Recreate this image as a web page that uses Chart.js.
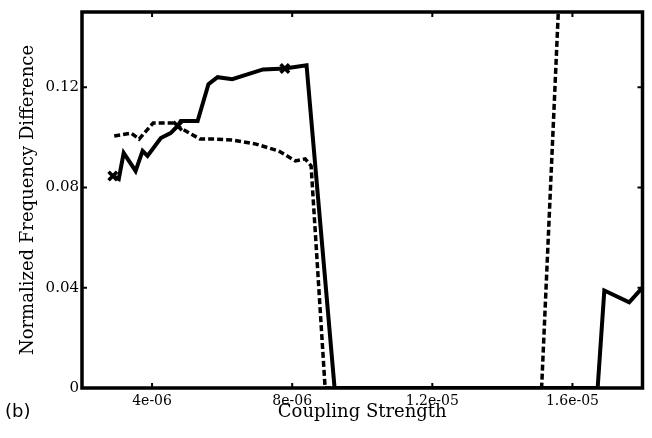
<!DOCTYPE html>
<html>
<head>
<meta charset="utf-8">
<script src="https://cdn.jsdelivr.net/npm/chart.js@4/dist/chart.umd.min.js"></script>
<style>
  body { margin: 0; background: #fff; }
  #wrap { width: 652px; height: 438px; }
</style>
</head>
<body>
<div id="wrap"><canvas id="freqChart" width="652" height="438"></canvas></div>
<script>
  // values
  const solidX = [2.88e-6, 3.05e-6, 3.19e-6, 3.53e-6, 3.73e-6, 3.87e-6, 4.25e-6, 4.53e-6, 4.73e-6, 4.82e-6,
                  5.30e-6, 5.61e-6, 5.87e-6, 6.29e-6, 6.72e-6, 7.17e-6, 7.79e-6, 8.41e-6, 9.21e-6,
                  1.672e-5, 1.691e-5, 1.762e-5, 1.80e-5];
  const solidY = [0.0846, 0.0834, 0.0938, 0.0866, 0.0946, 0.0926, 0.0997, 0.1017, 0.1045, 0.1065,
                  0.1065, 0.1212, 0.1240, 0.1232, 0.1251, 0.1271, 0.1275, 0.1287, 0,
                  0, 0.0389, 0.0342, 0.0401];
  const solidMarks = [0, 8, 16]; // indices with a cross

  const dashedX = [2.92e-6, 3.40e-6, 3.63e-6, 4.03e-6, 4.62e-6, 4.82e-6, 5.37e-6, 5.75e-6, 6.31e-6, 6.97e-6,
                   7.61e-6, 8.09e-6, 8.37e-6, 8.54e-6, 8.94e-6, 1.512e-5, 1.566e-5];
  const dashedY = [0.1005, 0.1017, 0.0993, 0.1057, 0.1057, 0.1037, 0.0993, 0.0993, 0.0989, 0.0973,
                   0.0946, 0.0906, 0.0914, 0.0886, 0, 0, 0.17];

  const xTicks = [4e-6, 8e-6, 1.2e-5, 1.6e-5];
  const xTickLabels = ['4e-06', '8e-06', '1.2e-05', '1.6e-05'];
  const yTicks = [0, 0.04, 0.08, 0.12];
  const yTickLabels = ['0', '0.04', '0.08', '0.12'];

  const serif = 'DejaVu Serif';

  // frame with inward ticks on all four sides, plus the panel label
  const framePlugin = {
    id: 'frame',
    afterDraw(chart) {
      const { ctx, chartArea: a, scales } = chart;
      ctx.save();
      ctx.strokeStyle = '#000';
      ctx.lineWidth = 2;
      ctx.beginPath();
      xTicks.forEach(v => {
        const px = scales.x.getPixelForValue(v);
        ctx.moveTo(px, a.bottom); ctx.lineTo(px, a.bottom - 5);
        ctx.moveTo(px, a.top); ctx.lineTo(px, a.top + 5);
      });
      yTicks.forEach(v => {
        const py = scales.y.getPixelForValue(v);
        ctx.moveTo(a.left, py); ctx.lineTo(a.left + 5, py);
        ctx.moveTo(a.right, py); ctx.lineTo(a.right - 5, py);
      });
      ctx.stroke();
      ctx.lineWidth = 3.5;
      ctx.strokeRect(a.left, a.top, a.right - a.left, a.bottom - a.top);
      ctx.fillStyle = '#000';
      ctx.font = '18px "DejaVu Sans"';
      ctx.textBaseline = 'alphabetic';
      ctx.fillText('(b)', 5, 417);
      ctx.restore();
    }
  };

  function createFreqChart() {
    const ctx = document.getElementById('freqChart').getContext('2d');

    new Chart(ctx, {
      type: 'line',
      data: {
        datasets: [
          {
            label: 'dashed',
            data: dashedX.map((x, i) => ({ x: x, y: dashedY[i] })),
            borderColor: '#000',
            borderWidth: 3.5,
            borderDash: [6, 3],
            pointRadius: 0,
            tension: 0,
          },
          {
            label: 'solid',
            data: solidX.map((x, i) => ({ x: x, y: solidY[i] })),
            borderColor: '#000',
            borderWidth: 4,
            pointStyle: 'crossRot',
            pointRadius: solidX.map((x, i) => solidMarks.includes(i) ? 6 : 0),
            pointBorderWidth: 3.5,
            pointBorderColor: '#000',
            tension: 0,
          },
        ],
      },
      options: {
        responsive: false,
        animation: false,
        layout: { padding: { left: 0, right: 5, top: 10, bottom: 15 } },
        plugins: {
          legend: { display: false },
          tooltip: { enabled: false },
        },
        scales: {
          x: {
            type: 'linear',
            min: 2e-6,
            max: 1.8e-5,
            grid: { display: false, drawTicks: false },
            border: { display: false },
            afterBuildTicks: s => { s.ticks = xTicks.map(v => ({ value: v })); },
            afterFit: s => { s.height = 35; },
            ticks: {
              color: '#000',
              font: { family: serif, size: 14 },
              padding: 5,
              maxRotation: 0,
              callback: (v, i) => xTickLabels[i],
            },
            title: {
              display: true,
              text: 'Coupling Strength',
              color: '#000',
              font: { family: serif, size: 18 },
              padding: { top: 0, bottom: 0 },
            },
          },
          y: {
            min: 0,
            max: 0.15,
            grid: { display: false, drawTicks: false },
            border: { display: false },
            afterBuildTicks: s => { s.ticks = yTicks.map(v => ({ value: v })); },
            afterFit: s => { s.width = 82; },
            ticks: {
              color: '#000',
              font: { family: serif, size: 15 },
              padding: 3,
              callback: (v, i) => yTickLabels[i],
            },
            title: {
              display: true,
              text: 'Normalized Frequency Difference',
              color: '#000',
              font: { family: serif, size: 18 },
              padding: { top: 18, bottom: 0 },
            },
          },
        },
      },
      plugins: [framePlugin],
    });
  }

  document.addEventListener('DOMContentLoaded', () => {
    createFreqChart();
  });
</script>
</body>
</html>
